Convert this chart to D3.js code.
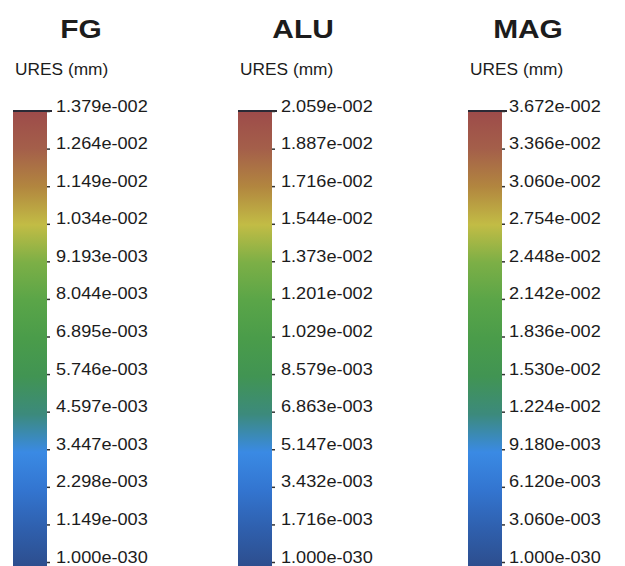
<!DOCTYPE html>
<html lang="en">
<head>
    <meta charset="UTF-8">
    <title>URES legends</title>
    <script src="https://cdn.jsdelivr.net/npm/d3@7/dist/d3.min.js"></script>
    <style>
        body { margin: 0; background: #fff; }
        svg { display: block; font-family: "Liberation Sans", Arial, sans-serif; }
    </style>
</head>
<body>
    <div class="container"></div>
    <script>
        // data
        const materials = ["FG", "ALU", "MAG"]
        const unitLabel = "URES (mm)"
        const fgLabels = ["1.379e-002", "1.264e-002", "1.149e-002", "1.034e-002", "9.193e-003", "8.044e-003",
            "6.895e-003", "5.746e-003", "4.597e-003", "3.447e-003", "2.298e-003", "1.149e-003", "1.000e-030"]
        const aluLabels = ["2.059e-002", "1.887e-002", "1.716e-002", "1.544e-002", "1.373e-002", "1.201e-002",
            "1.029e-002", "8.579e-003", "6.863e-003", "5.147e-003", "3.432e-003", "1.716e-003", "1.000e-030"]
        const magLabels = ["3.672e-002", "3.366e-002", "3.060e-002", "2.754e-002", "2.448e-002", "2.142e-002",
            "1.836e-002", "1.530e-002", "1.224e-002", "9.180e-003", "6.120e-003", "3.060e-003", "1.000e-030"]
        const tickLabels = [fgLabels, aluLabels, magLabels]

        // colour ramp, bottom (0) to top (max)
        const ramp = ["#2d4e8e", "#2f60ae", "#3375d0", "#3a8ae4", "#3c8a7c", "#419453", "#4a9c4a",
            "#5aa548", "#7caf46", "#c2bc45", "#b2863f", "#a45f4a", "#9d4b4a"]

        // layout
        const width = 625, height = 566
        const barX = [13, 238, 468]
        const titleX = [81, 303, 528]
        const bottomY = 562
        const topY = 111
        const barW = 34

        const svg = d3.select(".container").append("svg")
            .attr("width", width).attr("height", height)

        const defs = svg.append("defs")
        const grad = defs.append("linearGradient")
            .attr("id", "ramp").attr("x1", 0).attr("y1", 1).attr("x2", 0).attr("y2", 0)
        grad.selectAll("stop").data(ramp).join("stop")
            .attr("offset", (c, i) => i / (ramp.length - 1))
            .attr("stop-color", c => c)

        materials.forEach((name, k) => {
            const labels = tickLabels[k]
            const values = labels.map(Number)
            const y = d3.scaleLinear()
                .domain([0, d3.max(values)])
                .range([bottomY, topY])

            const g = svg.append("g")

            g.append("text")
                .attr("transform", `translate(${titleX[k]},38) scale(1.15,1)`)
                .attr("text-anchor", "middle")
                .attr("font-size", 26).attr("font-weight", "bold")
                .attr("fill", "#1c1c1c")
                .text(name)

            g.append("text")
                .attr("transform", `translate(${barX[k] + 2},74.5) scale(1.05,1)`)
                .attr("font-size", 16.5)
                .attr("fill", "#1c1c1c")
                .text(unitLabel)

            g.append("rect")
                .attr("x", barX[k]).attr("y", topY)
                .attr("width", barW).attr("height", height - topY)
                .attr("fill", "url(#ramp)")

            g.append("line")
                .attr("x1", barX[k]).attr("x2", barX[k] + barW + 5)
                .attr("y1", topY).attr("y2", topY)
                .attr("stroke", "#2a2a36").attr("stroke-width", 2)

            const axis = d3.axisRight(y)
                .tickValues(values)
                .tickFormat((d, i) => labels[i])
                .tickSize(3)

            const ag = g.append("g")
                .attr("transform", `translate(${barX[k] + barW},0)`)
                .call(axis)
            ag.select(".domain").remove()
            ag.selectAll(".tick line").attr("stroke", "#333").attr("stroke-width", 1.5)
            ag.selectAll(".tick text")
                .attr("x", null).attr("dy", 0)
                .attr("transform", `translate(${k === 2 ? 7 : 9},0) scale(1.1,1)`)
                .attr("font-size", 16.5)
                .attr("font-family", null)
                .attr("fill", "#1c1c1c")
        })
    </script>
</body>
</html>
